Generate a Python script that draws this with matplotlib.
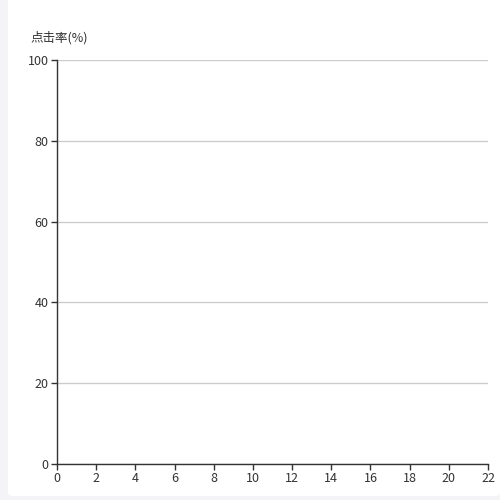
import matplotlib
matplotlib.use("Agg")
import matplotlib.pyplot as plt
from matplotlib.patches import FancyBboxPatch

plt.rcParams['font.family'] = ['Noto Sans CJK SC', 'DejaVu Sans']

x_ticks = [0, 2, 4, 6, 8, 10, 12, 14, 16, 18, 20, 22]
y_ticks = [0, 20, 40, 60, 80, 100]
y_title = "点击率(%)"

W, H = 500, 500
fig = plt.figure(figsize=(5, 5), dpi=100)
fig.patch.set_facecolor('#f3f3f8')
card = FancyBboxPatch((8 / W, 4 / H), (W - 8) / W, (H - 4) / H + 0.02,
                      boxstyle="round,pad=0,rounding_size=0.008",
                      transform=fig.transFigure, facecolor='white',
                      edgecolor='none', zorder=-10)
fig.patches.append(card)

ax = fig.add_axes([57 / W, 1 - 464 / H, (488 - 57) / W, (464 - 60) / H])
ax.set_zorder(5)
ax.set_facecolor('none')
ax.set_xlim(0, 22)
ax.set_ylim(0, 100)
ax.set_xticks(x_ticks)
ax.set_yticks(y_ticks)
ax.grid(axis='y', color='#cccccc', linewidth=1)
ax.set_axisbelow(True)
for s in ['top', 'right']:
    ax.spines[s].set_visible(False)
for s in ['left', 'bottom']:
    ax.spines[s].set_color('#333333')
    ax.spines[s].set_linewidth(1)
ax.tick_params(axis='both', direction='out', length=4, width=1,
               color='#333333', labelcolor='#333333', labelsize=9, pad=2)
ax.text(30 / W, 1 - 38 / H, y_title, transform=fig.transFigure,
        fontsize=9, color='#333333', ha='left', va='center')

fig.savefig('out.png', dpi=100)
